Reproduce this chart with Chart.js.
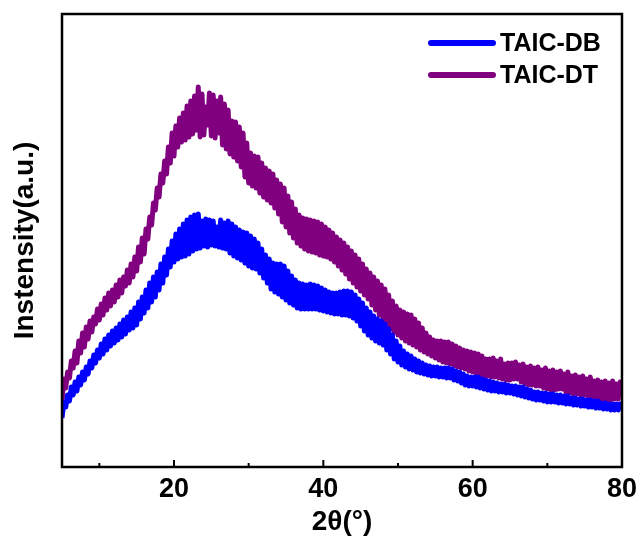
<!DOCTYPE html>
<html lang="en">
  <head>
    <meta charset="UTF-8" />
    <title>XRD</title>
    <script src="https://cdn.jsdelivr.net/npm/chart.js@4"></script>
    <style>
      html, body { margin: 0; padding: 0; background: #fff; }
      .chart-box { width: 643px; height: 540px; }
    </style>
  </head>
  <body>
    <div class="chart-box">
      <canvas id="myChart"></canvas>
    </div>
    <script>
      // 2theta scan (deg)
      const twoTheta = [
        5, 5.25, 5.5, 5.75, 6, 6.25, 6.5, 6.75, 7, 7.25, 7.5, 7.75, 8, 8.25, 8.5, 8.75, 9, 9.25, 9.5, 9.75,
        10, 10.25, 10.5, 10.75, 11, 11.25, 11.5, 11.75, 12, 12.25, 12.5, 12.75, 13, 13.25, 13.5, 13.75, 14, 14.25, 14.5, 14.75,
        15, 15.25, 15.5, 15.75, 16, 16.25, 16.5, 16.75, 17, 17.25, 17.5, 17.75, 18, 18.25, 18.5, 18.75, 19, 19.25, 19.5, 19.75,
        20, 20.25, 20.5, 20.75, 21, 21.25, 21.5, 21.75, 22, 22.25, 22.5, 22.75, 23, 23.25, 23.5, 23.75, 24, 24.25, 24.5, 24.75,
        25, 25.25, 25.5, 25.75, 26, 26.25, 26.5, 26.75, 27, 27.25, 27.5, 27.75, 28, 28.25, 28.5, 28.75, 29, 29.25, 29.5, 29.75,
        30, 30.25, 30.5, 30.75, 31, 31.25, 31.5, 31.75, 32, 32.25, 32.5, 32.75, 33, 33.25, 33.5, 33.75, 34, 34.25, 34.5, 34.75,
        35, 35.25, 35.5, 35.75, 36, 36.25, 36.5, 36.75, 37, 37.25, 37.5, 37.75, 38, 38.25, 38.5, 38.75, 39, 39.25, 39.5, 39.75,
        40, 40.25, 40.5, 40.75, 41, 41.25, 41.5, 41.75, 42, 42.25, 42.5, 42.75, 43, 43.25, 43.5, 43.75, 44, 44.25, 44.5, 44.75,
        45, 45.25, 45.5, 45.75, 46, 46.25, 46.5, 46.75, 47, 47.25, 47.5, 47.75, 48, 48.25, 48.5, 48.75, 49, 49.25, 49.5, 49.75,
        50, 50.25, 50.5, 50.75, 51, 51.25, 51.5, 51.75, 52, 52.25, 52.5, 52.75, 53, 53.25, 53.5, 53.75, 54, 54.25, 54.5, 54.75,
        55, 55.25, 55.5, 55.75, 56, 56.25, 56.5, 56.75, 57, 57.25, 57.5, 57.75, 58, 58.25, 58.5, 58.75, 59, 59.25, 59.5, 59.75,
        60, 60.25, 60.5, 60.75, 61, 61.25, 61.5, 61.75, 62, 62.25, 62.5, 62.75, 63, 63.25, 63.5, 63.75, 64, 64.25, 64.5, 64.75,
        65, 65.25, 65.5, 65.75, 66, 66.25, 66.5, 66.75, 67, 67.25, 67.5, 67.75, 68, 68.25, 68.5, 68.75, 69, 69.25, 69.5, 69.75,
        70, 70.25, 70.5, 70.75, 71, 71.25, 71.5, 71.75, 72, 72.25, 72.5, 72.75, 73, 73.25, 73.5, 73.75, 74, 74.25, 74.5, 74.75,
        75, 75.25, 75.5, 75.75, 76, 76.25, 76.5, 76.75, 77, 77.25, 77.5, 77.75, 78, 78.25, 78.5, 78.75, 79, 79.25, 79.5, 79.75,
        80
      ];
      // intensity (a.u.)
      const taicDB = [
        49, 64, 60, 72, 66, 80, 72, 85, 76, 90, 82, 95, 87, 100, 93, 106, 99, 112, 104, 117,
        109, 123, 113, 128, 117, 132, 121, 136, 124, 139, 127, 143, 130, 147, 133, 150, 137, 155, 139, 159,
        142, 165, 148, 170, 154, 177, 159, 184, 165, 190, 170, 195, 177, 203, 184, 210, 192, 218, 200, 226,
        205, 233, 208, 238, 210, 243, 211, 247, 213, 250, 216, 252, 218, 253, 219, 246, 221, 248, 220, 247,
        222, 246, 221, 240, 220, 247, 219, 244, 218, 246, 214, 243, 211, 240, 209, 237, 207, 235, 204, 234,
        201, 231, 199, 228, 198, 224, 194, 218, 189, 212, 184, 208, 178, 204, 175, 203, 173, 203, 170, 201,
        167, 196, 164, 191, 162, 187, 159, 184, 158, 183, 158, 182, 158, 183, 158, 182, 158, 181, 157, 179,
        156, 177, 155, 175, 154, 174, 153, 174, 153, 175, 152, 176, 152, 176, 151, 175, 149, 172, 146, 168,
        141, 164, 136, 159, 132, 155, 129, 151, 126, 148, 124, 146, 122, 143, 117, 138, 113, 132, 108, 126,
        105, 121, 102, 116, 100, 113, 98, 111, 97, 108, 95, 106, 94, 104, 93, 102, 92, 101, 91, 100,
        91, 100, 90, 99, 90, 99, 89, 99, 89, 98, 87, 96, 86, 95, 84, 93, 82, 91, 81, 90,
        81, 90, 80, 90, 79, 88, 78, 87, 77, 86, 76, 85, 76, 84, 75, 83, 75, 83, 74, 82,
        74, 81, 73, 81, 72, 80, 71, 80, 70, 78, 69, 77, 68, 75, 67, 75, 67, 74, 66, 74,
        65, 73, 65, 73, 65, 72, 64, 72, 64, 71, 63, 71, 63, 69, 62, 69, 62, 68, 61, 68,
        61, 67, 60, 67, 60, 66, 59, 66, 59, 64, 58, 64, 58, 63, 57, 63, 57, 63, 57, 63,
        58
      ];
      const taicDT = [
        66, 88, 79, 95, 89, 106, 99, 116, 104, 126, 114, 134, 120, 140, 128, 146, 135, 150, 143, 158,
        147, 163, 152, 169, 157, 174, 161, 177, 165, 182, 170, 187, 174, 190, 181, 197, 184, 203, 190, 210,
        196, 220, 205, 229, 213, 238, 228, 250, 242, 264, 257, 279, 270, 293, 284, 306, 293, 320, 304, 334,
        311, 341, 320, 349, 325, 354, 327, 361, 330, 366, 333, 371, 337, 380, 330, 373, 332, 360, 342, 374,
        331, 372, 329, 366, 334, 370, 322, 363, 318, 357, 313, 346, 310, 345, 306, 340, 300, 334, 290, 324,
        284, 314, 281, 311, 279, 310, 274, 304, 270, 299, 267, 296, 264, 293, 259, 287, 253, 283, 245, 279,
        240, 271, 234, 265, 229, 258, 224, 252, 221, 249, 218, 248, 216, 247, 215, 246, 214, 245, 212, 243,
        211, 240, 210, 237, 208, 234, 205, 230, 201, 227, 197, 224, 193, 220, 188, 216, 184, 212, 180, 208,
        176, 203, 172, 198, 168, 194, 162, 190, 157, 186, 152, 182, 147, 178, 142, 172, 138, 166, 135, 161,
        132, 157, 129, 155, 126, 153, 124, 152, 122, 148, 120, 144, 117, 139, 115, 134, 113, 130, 111, 127,
        109, 126, 107, 126, 105, 125, 104, 125, 103, 123, 101, 121, 100, 119, 99, 117, 98, 116, 96, 115,
        95, 114, 93, 113, 92, 111, 91, 108, 91, 108, 90, 109, 90, 106, 89, 108, 88, 103, 87, 104,
        87, 104, 88, 105, 88, 102, 85, 103, 83, 100, 82, 101, 82, 99, 81, 100, 81, 97, 79, 99,
        78, 96, 77, 97, 77, 95, 78, 96, 78, 93, 75, 95, 74, 91, 73, 92, 73, 90, 72, 91,
        72, 88, 70, 90, 69, 86, 68, 87, 68, 85, 67, 86, 67, 84, 67, 86, 68, 83, 68, 85,
        70
      ];
      const xTicks = [20, 40, 60, 80];
      const xMinorTicks = [10, 30, 50, 70];
      const seriesNames = ["TAIC-DB", "TAIC-DT"];
      const seriesColors = ["#0000ff", "#800080"];

      const fontFamily = "'Liberation Sans', Arial, sans-serif";

      const toPoints = (ys) => ys.map((y, i) => ({ x: twoTheta[i], y: y }));

      // frame, inward ticks and legend like the origin plot
      const framePlugin = {
        id: "frame",
        afterDraw(chart) {
          const { ctx, chartArea: a, scales } = chart;
          ctx.save();
          ctx.strokeStyle = "#000";
          ctx.lineWidth = 2.5;
          ctx.strokeRect(a.left, a.top, a.right - a.left, a.bottom - a.top);
          ctx.lineWidth = 2;
          xTicks.forEach((v) => {
            const px = scales.x.getPixelForValue(v);
            ctx.beginPath();
            ctx.moveTo(px, a.bottom);
            ctx.lineTo(px, a.bottom - 7);
            ctx.stroke();
          });
          xMinorTicks.forEach((v) => {
            const px = scales.x.getPixelForValue(v);
            ctx.beginPath();
            ctx.moveTo(px, a.bottom);
            ctx.lineTo(px, a.bottom - 4);
            ctx.stroke();
          });
          // legend
          const rows = [43, 75];
          chart.data.datasets.forEach((ds, i) => {
            ctx.strokeStyle = ds.borderColor;
            ctx.lineWidth = 6;
            ctx.lineCap = "round";
            ctx.beginPath();
            ctx.moveTo(431, rows[i]);
            ctx.lineTo(493, rows[i]);
            ctx.stroke();
            ctx.fillStyle = "#000";
            ctx.font = "bold 25px " + fontFamily;
            ctx.textBaseline = "middle";
            ctx.textAlign = "left";
            ctx.fillText(ds.label, 500, rows[i] + 1);
          });
          ctx.restore();
        },
      };

      const ctx = document.getElementById("myChart");
      const myChart = new Chart(ctx, {
        type: "line",
        data: {
          datasets: [
            {
              label: seriesNames[0],
              data: toPoints(taicDB),
              borderColor: seriesColors[0],
              borderWidth: 5,
              borderJoinStyle: "round",
              pointRadius: 0,
              tension: 0,
            },
            {
              label: seriesNames[1],
              data: toPoints(taicDT),
              borderColor: seriesColors[1],
              borderWidth: 5,
              borderJoinStyle: "round",
              pointRadius: 0,
              tension: 0,
            },
          ],
        },
        options: {
          responsive: true,
          maintainAspectRatio: false,
          animation: false,
          layout: { padding: { top: 14, right: 20, left: 0, bottom: 0 } },
          plugins: {
            legend: { display: false },
            tooltip: { enabled: false },
          },
          scales: {
            x: {
              type: "linear",
              min: 5,
              max: 80,
              afterBuildTicks: (s) => {
                s.ticks = xTicks.map((v) => ({ value: v }));
              },
              afterFit: (s) => {
                s.height = 73;
              },
              grid: { display: false, drawTicks: false },
              border: { display: false },
              ticks: {
                color: "#000",
                padding: 6,
                maxRotation: 0,
                font: { family: fontFamily, size: 27, weight: "bold" },
              },
              title: {
                display: true,
                text: "2θ(°)",
                color: "#000",
                padding: { top: 0, bottom: 1 },
                font: { family: fontFamily, size: 28, weight: "bold" },
              },
            },
            y: {
              min: 0,
              max: 453,
              afterFit: (s) => {
                s.width = 62;
              },
              grid: { display: false, drawTicks: false },
              border: { display: false },
              ticks: { display: false },
              title: {
                display: true,
                text: "Instensity(a.u.)",
                color: "#000",
                padding: { top: 8, bottom: 0 },
                font: { family: fontFamily, size: 28, weight: "bold" },
              },
            },
          },
        },
        plugins: [framePlugin],
      });
    </script>
  </body>
</html>
